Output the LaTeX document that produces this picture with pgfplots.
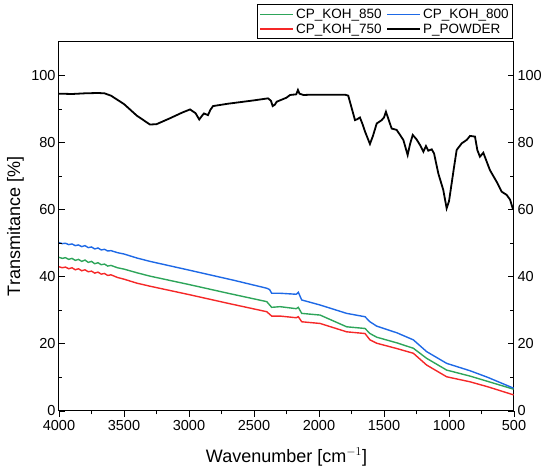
\documentclass[border=0pt]{standalone}
\usepackage{pgfplots}
\pgfplotsset{compat=1.18}
\usepackage{fontspec}
\setmainfont{Liberation Sans}
\definecolor{cgreen}{RGB}{46,165,90}
\definecolor{cblue}{RGB}{30,105,230}
\definecolor{cred}{RGB}{245,40,40}
\pgfplotsset{
  common/.style={scale only axis, width=455pt, height=369pt, x dir=reverse,
    xmin=500, xmax=4000, ymin=0, ymax=110,
    /pgf/number format/assume math mode=true, /pgf/number format/1000 sep={},
    tick label style={font=\fontsize{14.5}{16}\selectfont},
    major tick length=6pt, minor tick length=3.5pt,
    every tick/.style={black, line width=0.9pt}},
}
\begin{document}
\begin{tikzpicture}
\begin{axis}[common,
  axis line style={line width=1pt},
  xtick={500,1000,...,4000}, minor x tick num=1, xtick pos=bottom, tick align=outside,
  ymajorticks=false, yminorticks=false,
  xlabel={Wavenumber [cm$^{-1}$]}, ylabel={Transmitance [\%]},
  label style={font=\fontsize{18}{20}\selectfont},
  xlabel style={at={(rel axis cs:0.5,0)}, anchor=north, inner sep=0pt, yshift=-37pt},
  ylabel style={at={(rel axis cs:0,0.5)}, anchor=south, inner sep=0pt, yshift=35pt},
  legend columns=2, legend cell align=left,
  legend style={at={(rel axis cs:1,1)}, anchor=south east, xshift=-1pt, yshift=3pt,
    draw=black, line width=0.8pt, inner sep=2pt, font=\fontsize{13.5}{15}\selectfont,
    /tikz/every even column/.append style={column sep=3pt}},
  legend image code/.code={\draw[#1, line width=1.4pt] (0pt,0pt) -- (33pt,0pt);},
]
\coordinate (o) at (rel axis cs:0,0);
\addplot[cgreen, line width=1.4pt] coordinates {
(4000,45.8) (3975,45.5) (3950,45.7) (3925,45.2) (3900,45.5) (3875,44.9) (3850,45.2) (3825,44.6) (3800,45.0)
(3775,44.3) (3750,44.6) (3725,43.9) (3700,44.2) (3675,43.6) (3650,43.8) (3625,43.2) (3600,43.4)
(3550,42.7) (3500,42.3) (3400,41.2) (3300,40.2) (3000,37.7) (2700,35.1) (2402,32.6) (2364,30.9) (2300,31.1)
(2175,30.5) (2159,30.9) (2133,29.1) (1992,28.6) (1787,25.1) (1646,24.6) (1608,23.1) (1556,22.0)
(1400,20.3) (1274,18.7) (1172,15.7) (1018,12.2) (838,10.4) (700,8.8) (503,6.5)};
\addlegendentry{CP\_KOH\_850}
\addplot[cblue, line width=1.4pt] coordinates {
(4000,50.2) (3975,49.9) (3950,50.0) (3925,49.6) (3900,49.8) (3875,49.3) (3850,49.5) (3825,49.0) (3800,49.3)
(3775,48.7) (3750,48.9) (3725,48.3) (3700,48.6) (3675,48.0) (3650,48.2) (3625,47.7) (3600,47.8)
(3550,47.2) (3500,46.8) (3400,45.6) (3300,44.6) (3000,42.0) (2659,39.0) (2402,36.6) (2380,36.2) (2364,35.1)
(2300,35.1) (2175,34.8) (2159,35.4) (2133,33.1) (1992,31.6) (1787,29.1) (1660,28.2) (1646,28.1)
(1608,26.6) (1556,25.3) (1400,23.3) (1274,21.2) (1172,17.7) (1018,14.2) (838,12.0) (700,10.0) (503,6.8)};
\addlegendentry{CP\_KOH\_800}
\addplot[cred, line width=1.4pt] coordinates {
(4000,43.0) (3975,42.7) (3950,42.9) (3925,42.4) (3900,42.7) (3875,42.1) (3850,42.4) (3825,41.8) (3800,42.1)
(3775,41.5) (3750,41.7) (3725,41.1) (3700,41.4) (3675,40.8) (3650,41.0) (3625,40.4) (3600,40.6)
(3550,39.8) (3500,39.3) (3400,38.1) (3300,37.2) (3000,34.7) (2700,32.1) (2402,29.6) (2364,28.3) (2300,28.3)
(2175,27.8) (2159,28.1) (2133,26.6) (1992,26.1) (1787,23.6) (1646,23.1) (1608,21.2) (1556,20.2)
(1400,18.6) (1274,17.2) (1172,13.7) (1018,10.2) (838,8.7) (700,7.2) (503,4.8)};
\addlegendentry{CP\_KOH\_750}
\addplot[black, line width=1.8pt] coordinates {
(4000,94.6) (3900,94.5) (3800,94.7) (3700,94.8) (3650,94.7) (3600,94.0) (3500,91.5) (3400,88.0)
(3300,85.4) (3250,85.5) (3150,87.2) (3050,89.0) (2992,89.9) (2950,88.8) (2921,86.9) (2900,88.0)
(2885,88.7) (2854,88.2) (2835,89.8) (2815,90.9) (2700,91.6) (2500,92.6) (2392,93.2) (2370,92.5)
(2356,90.9) (2340,91.3) (2325,92.2) (2250,93.4) (2223,94.2) (2175,94.4) (2162,95.7) (2150,94.6)
(2120,94.2) (2050,94.3) (1900,94.3) (1800,94.3) (1775,94.0) (1750,90.5) (1723,86.7) (1705,87.0)
(1685,87.5) (1665,85.5) (1646,83.3) (1608,79.6) (1585,82.0) (1556,85.7) (1518,86.7) (1500,87.5)
(1485,89.2) (1470,87.5) (1441,84.2) (1403,83.8) (1380,82.5) (1351,80.8) (1318,76.3) (1300,79.5)
(1279,82.3) (1250,81.0) (1223,79.3) (1197,77.3) (1177,79.0) (1159,77.6) (1133,78.0) (1115,76.8)
(1082,70.8) (1044,65.9) (1018,60.4) (1000,62.5) (987,65.9) (960,73.0) (941,77.8) (902,79.8)
(864,80.8) (838,82.0) (800,81.8) (782,77.8) (762,75.8) (736,77.0) (685,71.8) (633,68.3)
(595,65.4) (556,64.4) (530,63.0) (510,60.4) (500,60.0)};
\addlegendentry{P\_POWDER}
\end{axis}
\begin{axis}[common, axis line style={draw=none},
  xmajorticks=false, xminorticks=false,
  ytick={0,20,...,100}, minor y tick num=1, ytick pos=both, yticklabel pos=left, tick align=inside]
\end{axis}
\begin{axis}[common, axis line style={draw=none},
  xmajorticks=false, xminorticks=false, yminorticks=false,
  ytick={0,20,...,100}, ytick pos=right, yticklabel pos=right, major tick length=0pt]
\end{axis}
\pgfresetboundingbox
\path[use as bounding box] ([xshift=-59pt,yshift=-63pt]o) rectangle ++(550pt,474pt);
\end{tikzpicture}
\end{document}
